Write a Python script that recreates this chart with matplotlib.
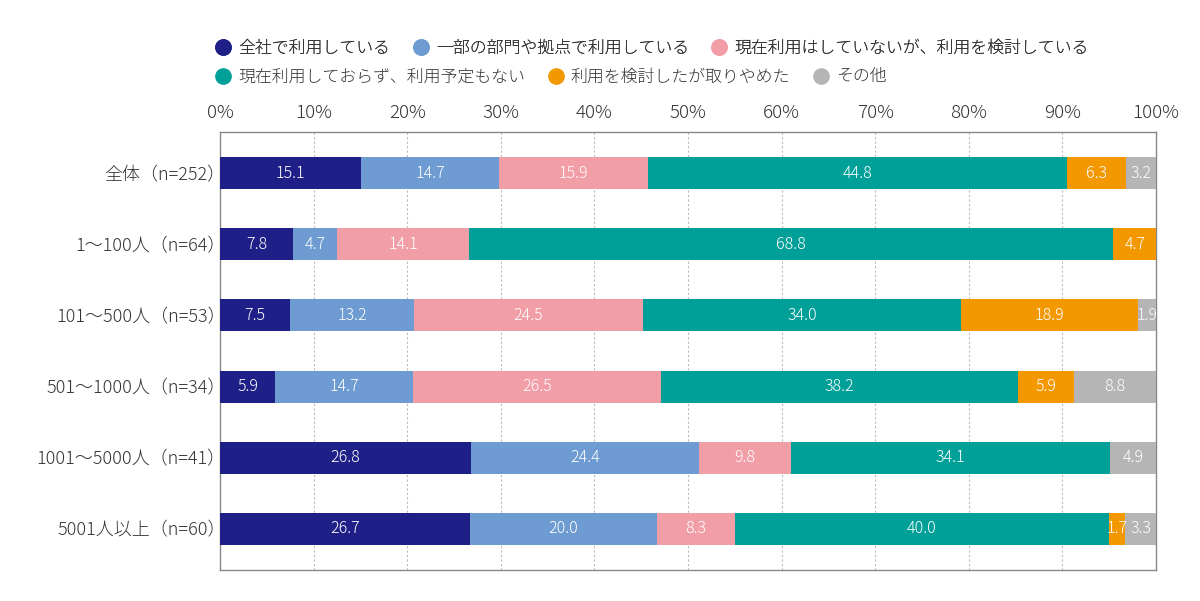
import matplotlib
matplotlib.use("Agg")
import matplotlib.pyplot as plt
from matplotlib.lines import Line2D
import numpy as np

plt.rcParams['font.family'] = ['Noto Sans CJK JP', 'DejaVu Sans']
plt.rcParams['font.weight'] = 'light'

categories = ["全体（n=252）", "1〜100人（n=64）", "101〜500人（n=53）",
              "501〜1000人（n=34）", "1001〜5000人（n=41）", "5001人以上（n=60）"]
series_names = ["全社で利用している", "一部の部門や拠点で利用している",
                "現在利用はしていないが、利用を検討している",
                "現在利用しておらず、利用予定もない", "利用を検討したが取りやめた", "その他"]
colors = ["#1f2087", "#6d9bd2", "#f19ea7", "#009f98", "#f39800", "#b5b5b5"]

s_all      = [15.1, 7.8, 7.5, 5.9, 26.8, 26.7]
s_partial  = [14.7, 4.7, 13.2, 14.7, 24.4, 20.0]
s_consider = [15.9, 14.1, 24.5, 26.5, 9.8, 8.3]
s_none     = [44.8, 68.8, 34.0, 38.2, 34.1, 40.0]
s_stopped  = [6.3, 4.7, 18.9, 5.9, 0.0, 1.7]
s_other    = [3.2, 0.0, 1.9, 8.8, 4.9, 3.3]
series = [s_all, s_partial, s_consider, s_none, s_stopped, s_other]

xticks = [0, 10, 20, 30, 40, 50, 60, 70, 80, 90, 100]
xtick_labels = [f"{t}%" for t in xticks]

fig = plt.figure(figsize=(12, 6.01), dpi=100)
ax = fig.add_axes([220/1200, 1 - 570/601, (1156-220)/1200, (570-132)/601])

y = np.arange(len(categories))
left = np.zeros(len(categories))
for vals, col in zip(series, colors):
    vals = np.array(vals)
    ax.barh(y, vals, left=left, height=0.45, color=col, zorder=3)
    for yi, v, l in zip(y, vals, left):
        if v > 0:
            ax.text(l + v/2, yi, f"{v:.1f}", ha='center', va='center',
                    color='white', fontsize=11.5, zorder=4)
    left = left + vals

ax.set_xlim(0, 100)
ax.set_ylim(5.58, -0.58)
ax.set_yticks(y)
ax.set_yticklabels(categories, fontsize=13, color='#333333')
ax.set_xticks(xticks)
ax.set_xticklabels(xtick_labels, fontsize=13.5, color='#333333')
ax.xaxis.tick_top()
ax.tick_params(axis='y', length=0, pad=-4)
ax.tick_params(axis='x', length=0, pad=7)
ax.grid(axis='x', color='#bbbbbb', linestyle=(0, (2, 2)), linewidth=0.8, zorder=0)
for sp in ax.spines.values():
    sp.set_color('#888888')
    sp.set_linewidth(1.0)

def handles(idx):
    return [Line2D([0], [0], marker='o', linestyle='', markersize=11,
                   markerfacecolor=colors[i], markeredgecolor=colors[i]) for i in idx]

common = dict(loc='center left', ncol=3, frameon=False, fontsize=12.2,
              handletextpad=0.4, columnspacing=1.3, borderaxespad=0, borderpad=0,
              handlelength=1.0)
leg1 = fig.legend(handles([0, 1, 2]), [series_names[i] for i in [0, 1, 2]],
                  bbox_to_anchor=(214.5/1200, 1 - 48/601), **common)
leg2 = fig.legend(handles([3, 4, 5]), [series_names[i] for i in [3, 4, 5]],
                  bbox_to_anchor=(214.5/1200, 1 - 77/601), **common)
for lg in (leg1, leg2):
    for t in lg.get_texts():
        t.set_color('#333333')
fig.add_artist(leg1)

fig.savefig("out.png", dpi=100)
